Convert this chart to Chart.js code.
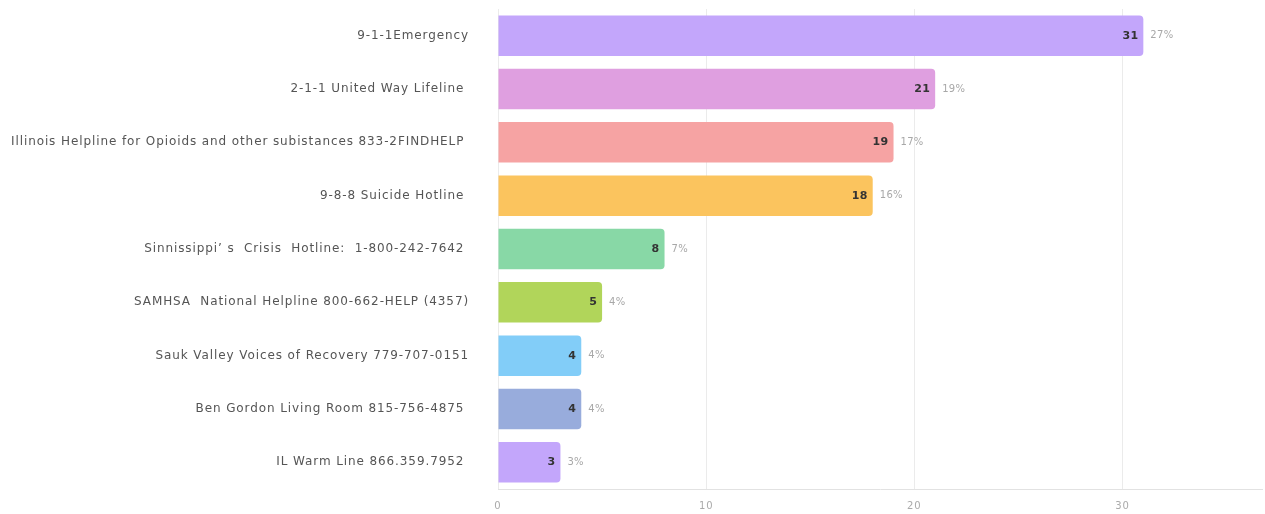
<!DOCTYPE html>
<html>
<head>
<meta charset="utf-8">
<script src="https://cdn.jsdelivr.net/npm/chart.js@4/dist/chart.umd.min.js"></script>
<style>
  html, body { margin: 0; padding: 0; background: #fff; }
  #wrap { width: 1265px; height: 514px; }
</style>
</head>
<body>
<div id="wrap"><canvas id="chart" width="1265" height="514"></canvas></div>
<script>
'use strict';
// hotline answers, counts and share of responses
const lines = [
  '9-1-1Emergency',
  '2-1-1 United Way Lifeline ',
  'Illinois Helpline for Opioids and other subistances 833-2FINDHELP ',
  '9-8-8 Suicide Hotline ',
  'Sinnissippi\u2019 s  Crisis  Hotline:  1-800-242-7642 ',
  'SAMHSA  National Helpline 800-662-HELP (4357)',
  'Sauk Valley Voices of Recovery 779-707-0151',
  'Ben Gordon Living Room 815-756-4875 ',
  'IL Warm Line 866.359.7952 '
];
const counts = [31, 21, 19, 18, 8, 5, 4, 4, 3];
const shares = ['27%', '19%', '17%', '16%', '7%', '4%', '4%', '4%', '3%'];
const barColors = ['#c3a6fb', '#df9fe0', '#f6a3a3', '#fbc45e', '#88d8a6', '#b1d55a', '#82cdf8', '#98acdc', '#c3a6fb'];
const xTicks = [0, 10, 20, 30];

// the picture is a bit stretched sideways, so widen the axis text a little
const wideText = {
  id: 'wideText',
  beforeDraw(chart) { chart.ctx.letterSpacing = '0.9px'; },
  beforeDatasetsDraw(chart) { chart.ctx.letterSpacing = '0px'; }
};

// draws the count inside the bar end and the share just after it
const barText = {
  id: 'barText',
  afterDatasetsDraw(chart) {
    const ctx = chart.ctx;
    const meta = chart.getDatasetMeta(0);
    ctx.save();
    ctx.textBaseline = 'middle';
    ctx.letterSpacing = '0.3px';
    meta.data.forEach((bar, i) => {
      ctx.font = 'bold 11px "DejaVu Sans"';
      ctx.fillStyle = '#333';
      ctx.textAlign = 'right';
      ctx.fillText(counts[i], bar.x - 5, bar.y);
      ctx.font = '10px "DejaVu Sans"';
      ctx.fillStyle = '#a8a8a8';
      ctx.textAlign = 'left';
      ctx.fillText(shares[i], bar.x + 7, bar.y);
    });
    ctx.restore();
  }
};

new Chart(document.getElementById('chart'), {
  type: 'bar',
  data: {
    labels: lines,
    datasets: [{
      data: counts,
      backgroundColor: barColors,
      borderRadius: 4,
      borderSkipped: 'start',
      barPercentage: 0.76,
      categoryPercentage: 1
    }]
  },
  options: {
    indexAxis: 'y',
    responsive: false,
    animation: false,
    layout: { padding: { top: 9, right: 3, bottom: 2, left: 0 } },
    plugins: { legend: { display: false }, tooltip: { enabled: false } },
    scales: {
      x: {
        min: 0,
        max: 36.7,
        afterBuildTicks(scale) { scale.ticks = xTicks.map(v => ({ value: v })); },
        afterFit(scale) { scale.height = 23; },
        grid: { color: '#ebebeb', drawTicks: false },
        border: { color: '#e2e2e2' },
        ticks: { color: '#aaa', font: { family: 'DejaVu Sans', size: 10 }, padding: 11 }
      },
      y: {
        grid: { display: false },
        border: { display: false },
        afterFit(scale) {
          scale.width = 498;
          scale.paddingTop = 0;
          scale.paddingBottom = 0;
        },
        ticks: { color: '#555', font: { family: 'DejaVu Sans', size: 12 }, padding: 21 }
      }
    }
  },
  plugins: [wideText, barText]
});
</script>
</body>
</html>
